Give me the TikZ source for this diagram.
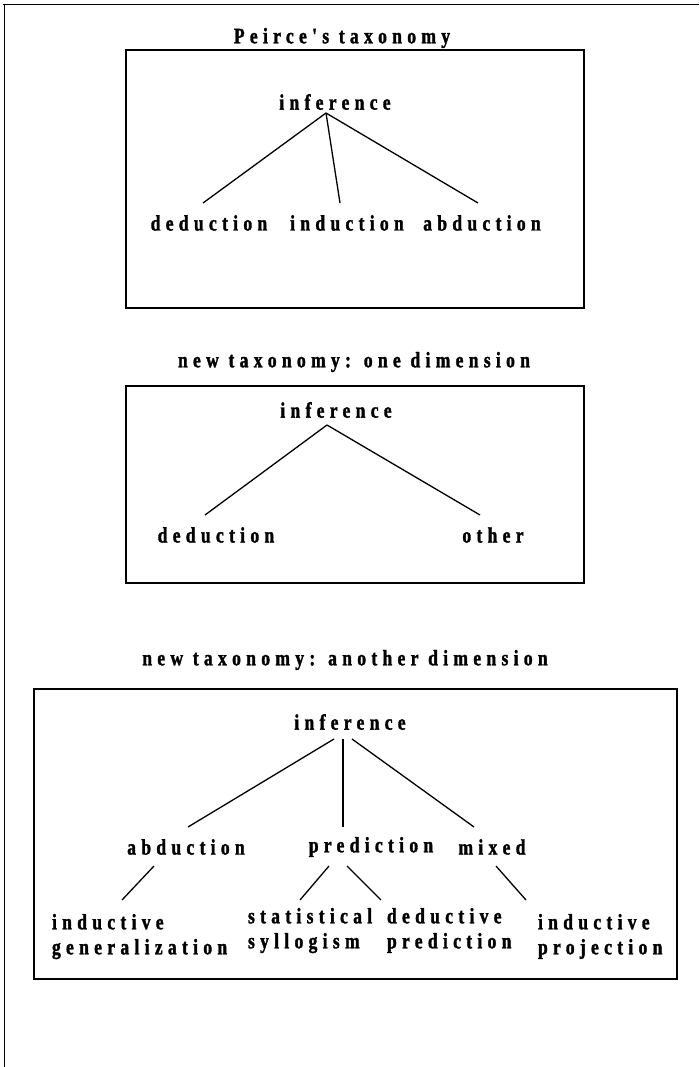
\documentclass[tikz,border=0pt]{standalone}
\usepackage{fontspec}
\newfontfamily\lblfont{Liberation Serif Bold}[LetterSpace=24, FakeStretch=0.8, FakeBold=1.5]
\begin{document}
\begin{tikzpicture}[x=1pt, y=-1pt,
  lbl/.style={font=\lblfont\fontsize{22}{25}\selectfont,
    inner sep=0pt, outer sep=0pt},
  leaf/.style={font=\lblfont\fontsize{22}{25}\selectfont,
    inner sep=0pt, outer sep=0pt, align=left, anchor=north west},
  frame/.style={line width=1.6pt},
  box/.style={line width=1.7pt},
  link/.style={line width=1.3pt}]
\useasboundingbox (0,0) rectangle (699,1067);

% page frame (top and left edges)
\draw[frame] (3,4.5) -- (699,4.5);
\draw[frame] (4.5,4) -- (4.5,1067);

% ---- Peirce's taxonomy ----
\node[lbl] (t1) at (342,38) {Peirce's taxonomy};
\draw[box] (126,50) rectangle (584,308);
\node[lbl] (inf1) at (335,102) {inference};
\node[lbl] (ded1) at (209,223) {deduction};
\node[lbl] (ind1) at (347,223) {induction};
\node[lbl] (abd1) at (482,223) {abduction};
\draw[link] ([xshift=-9pt,yshift=-11pt]inf1.center) -- ([xshift=-6pt,yshift=20pt]ded1.center);
\draw[link] ([xshift=-9pt,yshift=-11pt]inf1.center) -- ([xshift=-7pt,yshift=20pt]ind1.center);
\draw[link] ([xshift=-9pt,yshift=-11pt]inf1.center) -- ([xshift=-4pt,yshift=20pt]abd1.center);

% ---- new taxonomy: one dimension ----
\node[lbl] (t2) at (354,362) {new taxonomy: one dimension};
\draw[box] (126,386) rectangle (584,583);
\node[lbl] (inf2) at (336,410) {inference};
\node[lbl] (ded2) at (216,535) {deduction};
\node[lbl] (oth2) at (493,535) {other};
\draw[link] ([xshift=-9pt,yshift=-15pt]inf2.center) -- ([xshift=-11pt,yshift=20pt]ded2.center);
\draw[link] ([xshift=-9pt,yshift=-15pt]inf2.center) -- ([xshift=-13pt,yshift=20pt]oth2.center);

% ---- new taxonomy: another dimension ----
\node[lbl] (t3) at (345,660) {new taxonomy: another dimension};
\draw[box] (34,689) rectangle (677,979);
\node[lbl] (inf3) at (350,722) {inference};
\node[lbl] (abd3) at (186,847) {abduction};
\node[lbl] (pre3) at (371,847) {prediction};
\node[lbl] (mix3) at (492,847) {mixed};
\node[leaf] (genA) at (52,914) {inductive\\generalization};
\node[leaf] (sylB) at (248,908) {statistical\\syllogism};
\node[leaf] (dedC) at (387,908) {deductive\\prediction};
\node[leaf] (proD) at (538,914) {inductive\\projection};

\draw[link] ([xshift=-16pt,yshift=-17pt]inf3.center) -- ([xshift=2pt,yshift=20pt]abd3.center);
\draw[link] ([xshift=-7pt,yshift=-17pt]inf3.center) -- ([xshift=-28pt,yshift=20pt]pre3.center);
\draw[link] ([xshift=2pt,yshift=-17pt]inf3.center) -- ([xshift=-18pt,yshift=20pt]mix3.center);

\draw[link] ([xshift=-32pt,yshift=-19pt]abd3.center) -- ([xshift=70pt,yshift=14pt]genA.north west);
\draw[link] ([xshift=-42pt,yshift=-19pt]pre3.center) -- ([xshift=52pt,yshift=8pt]sylB.north west);
\draw[link] ([xshift=-24pt,yshift=-19pt]pre3.center) -- ([xshift=-6pt,yshift=8pt]dedC.north west);
\draw[link] ([xshift=4pt,yshift=-19pt]mix3.center) -- ([xshift=-12pt,yshift=14pt]proD.north west);
\end{tikzpicture}
\end{document}
